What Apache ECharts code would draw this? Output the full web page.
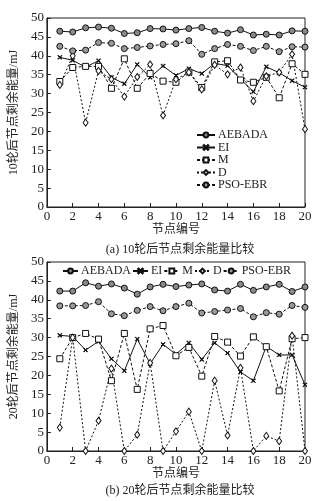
<!DOCTYPE html>
<html>
<head>
<meta charset="utf-8">
<script src="https://cdn.jsdelivr.net/npm/echarts@6/dist/echarts.min.js"></script>
<style>
    html, body { margin: 0; padding: 0; background: #fff; }
    #main { width: 333px; height: 501px; }
</style>
</head>
<body>
<div id="main"></div>
<script>
    // 节点编号
    var nodes = [1, 2, 3, 4, 5, 6, 7, 8, 9, 10, 11, 12, 13, 14, 15, 16, 17, 18, 19, 20];
    var xTicks = [0, 2, 4, 6, 8, 10, 12, 14, 16, 18, 20];
    var yTicks = [0, 5, 10, 15, 20, 25, 30, 35, 40, 45, 50];

    // (a) 10轮后
    var aebada10 = [46.5, 46.3, 47.4, 47.6, 47.3, 45.9, 46.1, 47.2, 47.1, 46.8, 47.2, 47.5, 46.5, 46.0, 46.9, 45.5, 45.7, 45.5, 46.6, 46.5];
    var ei10 = [39.6, 38.8, 37.0, 38.7, 34.3, 32.6, 37.7, 34.3, 37.3, 34.8, 36.6, 35.3, 38.0, 37.4, 33.8, 30.5, 37.1, 35.5, 33.4, 31.7];
    var m10 = [33.2, 36.9, 37.2, 37.2, 31.4, 39.2, 31.4, 35.3, 33.3, 33.0, 35.7, 31.6, 38.4, 38.7, 33.6, 33.0, 34.3, 28.9, 37.9, 35.1];
    var d10 = [32.3, 40.0, 22.3, 36.0, 33.8, 29.2, 34.4, 37.7, 24.2, 33.8, 35.6, 31.1, 37.6, 35.1, 36.9, 28.0, 34.6, 35.6, 40.4, 20.6];
    var pso10 = [42.5, 41.3, 41.5, 43.5, 43.3, 41.9, 42.2, 42.6, 43.0, 43.2, 44.0, 40.4, 41.9, 43.0, 42.5, 41.4, 42.5, 41.1, 42.4, 42.3];

    // (b) 20轮后
    var aebada20 = [42.3, 42.3, 44.5, 43.6, 44.2, 43.1, 41.5, 43.4, 44.1, 43.5, 43.9, 44.2, 42.6, 42.3, 44.1, 42.5, 43.4, 44.1, 42.2, 43.4];
    var ei20 = [30.6, 30.3, 26.7, 29.0, 24.4, 21.2, 29.6, 23.1, 28.2, 25.6, 28.6, 24.2, 28.6, 25.9, 20.9, 18.6, 27.7, 25.4, 25.4, 17.5];
    var m20 = [24.4, 30.0, 31.1, 29.6, 18.6, 31.1, 16.3, 32.3, 33.2, 25.2, 27.4, 19.8, 30.3, 28.8, 25.1, 30.2, 27.6, 15.9, 29.7, 30.0];
    var d20 = [6.2, 30.0, 0, 8.0, 21.8, 0, 4.3, 23.3, 0, 5.2, 10.4, 0, 18.6, 4.1, 22.0, 0, 4.0, 2.6, 30.5, 0];
    var pso20 = [38.4, 38.4, 38.5, 39.5, 36.3, 35.8, 37.2, 38.2, 37.1, 38.2, 39.1, 36.5, 36.9, 37.3, 37.7, 35.5, 36.6, 36.2, 38.5, 38.0];

    var names = ['AEBADA', 'EI', 'M', 'D', 'PSO-EBR'];
    var serif = 'Liberation Serif, Noto Sans CJK SC';
    var xMark = 'path://M0,1L1,0L5,4L9,0L10,1L6,5L10,9L9,10L5,6L1,10L0,9L4,5Z';

    function pairs(ys) {
        return nodes.map(function (n, i) { return [n, ys[i]]; });
    }

    // 每种算法的线型与标记
    var styles = {
        'AEBADA': { symbol: 'circle', size: 6, fill: '#8a8a8a', dash: 'solid' },
        'EI': { symbol: xMark, size: 4, fill: '#111', dash: 'solid' },
        'M': { symbol: 'rect', size: 6, fill: '#fff', dash: [3, 2] },
        'D': { symbol: 'diamond', size: [5, 7], fill: '#fff', dash: [2, 2] },
        'PSO-EBR': { symbol: 'circle', size: 6, fill: '#9a9a9a', dash: [3, 2] }
    };

    function makeSeries(name, ys, idx) {
        var s = styles[name];
        return {
            name: name,
            type: 'line',
            xAxisIndex: idx,
            yAxisIndex: idx,
            data: pairs(ys),
            symbol: s.symbol,
            symbolSize: s.size,
            showAllSymbol: true,
            animation: false,
            lineStyle: { color: '#111', width: 1, type: s.dash },
            itemStyle: { color: s.fill, borderColor: '#111', borderWidth: 1 },
            emphasis: { disabled: true }
        };
    }

    function xAxisCfg(idx) {
        return {
            type: 'value', gridIndex: idx, min: 0, max: 20, interval: 2,
            name: '节点编号', nameLocation: 'middle', nameGap: 16,
            nameTextStyle: { fontFamily: serif, fontSize: 12, color: '#222' },
            axisLine: { lineStyle: { color: '#222' } },
            axisTick: { inside: true, length: 4, lineStyle: { color: '#222' } },
            axisLabel: { fontFamily: serif, fontSize: 13, color: '#222', margin: 3,
                formatter: function (v) { return xTicks.indexOf(v) >= 0 ? v : ''; } },
            splitLine: { show: false }
        };
    }

    function yAxisCfg(idx, title) {
        return {
            type: 'value', gridIndex: idx, min: 0, max: 50, interval: 5,
            name: title, nameLocation: 'middle', nameGap: 19,
            nameTextStyle: { fontFamily: serif, fontSize: 12, color: '#222' },
            axisLine: { lineStyle: { color: '#222' } },
            axisTick: { inside: true, length: 4, lineStyle: { color: '#222' } },
            axisLabel: { fontFamily: serif, fontSize: 13, color: '#222', margin: 3,
                formatter: function (v) { return yTicks.indexOf(v) >= 0 ? v : ''; } },
            splitLine: { show: false }
        };
    }

    var option = {
        backgroundColor: '#fff',
        animation: false,
        title: [{
            text: '(a) 10轮后节点剩余能量比较', left: 175, top: 239, textAlign: 'center',
            textStyle: { fontFamily: serif, fontSize: 12, fontWeight: 'normal', color: '#222' }
        }, {
            text: '(b) 20轮后节点剩余能量比较', left: 175, top: 480, textAlign: 'center',
            textStyle: { fontFamily: serif, fontSize: 12, fontWeight: 'normal', color: '#222' }
        }],
        grid: [
            { left: 44, top: 18, width: 261, height: 189, show: true, borderColor: '#222', borderWidth: 1, backgroundColor: 'transparent' },
            { left: 44, top: 262, width: 261, height: 189, show: true, borderColor: '#222', borderWidth: 1, backgroundColor: 'transparent' }
        ],
        legend: [{
            data: names, orient: 'vertical', left: 196, top: 129,
            itemWidth: 18, itemHeight: 6, itemGap: 0.5, padding: 0,
            textStyle: { fontFamily: serif, fontSize: 12, color: '#222', lineHeight: 11, padding: [0, 0, 0, -2] },
            selectedMode: false
        }, {
            data: names, orient: 'horizontal', left: 62, top: 265,
            itemWidth: 15, itemHeight: 6, itemGap: 1, padding: 0,
            textStyle: { fontFamily: serif, fontSize: 12, color: '#222', padding: [0, 0, 0, -2] },
            selectedMode: false
        }],
        xAxis: [xAxisCfg(0), xAxisCfg(1)],
        yAxis: [yAxisCfg(0, '10轮后节点剩余能量/mJ'), yAxisCfg(1, '20轮后节点剩余能量/mJ')],
        series: [
            makeSeries('AEBADA', aebada10, 0),
            makeSeries('EI', ei10, 0),
            makeSeries('M', m10, 0),
            makeSeries('D', d10, 0),
            makeSeries('PSO-EBR', pso10, 0),
            makeSeries('AEBADA', aebada20, 1),
            makeSeries('EI', ei20, 1),
            makeSeries('M', m20, 1),
            makeSeries('D', d20, 1),
            makeSeries('PSO-EBR', pso20, 1)
        ]
    };

    var myChart = echarts.init(document.getElementById('main'));
    myChart.setOption(option);
</script>
</body>
</html>
